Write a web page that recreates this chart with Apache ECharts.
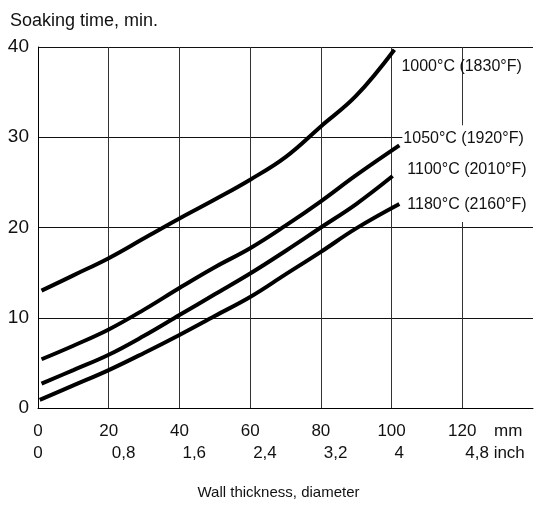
<!DOCTYPE html>
<html>
<head>
<meta charset="utf-8">
<script src="https://cdn.jsdelivr.net/npm/echarts@6/dist/echarts.min.js"></script>
<style>
  html, body { margin: 0; padding: 0; background: #fff; }
  #chart { width: 534px; height: 505px; }
</style>
</head>
<body>
<div id="chart"></div>
<script>
// wall thickness (mm) and soaking time (min)
const x1000 = [1, 10, 20, 30, 40, 50, 60, 70, 80, 90, 100.8];
const t1000 = [13.0, 14.7, 16.6, 18.8, 21.0, 23.1, 25.3, 27.8, 31.2, 34.6, 39.7];
const x1050 = [1, 10, 20, 30, 40, 50, 60, 70, 80, 90, 102.2];
const t1050 = [5.4, 6.9, 8.7, 10.9, 13.3, 15.6, 17.7, 20.2, 22.9, 25.8, 29.1];
const x1100 = [1, 10, 20, 30, 40, 50, 60, 70, 80, 90, 100.3];
const t1100 = [2.7, 4.2, 5.9, 8.0, 10.3, 12.6, 14.9, 17.4, 20.0, 22.6, 25.7];
const x1180 = [0.5, 10, 20, 30, 40, 50, 60, 70, 80, 90, 102.2];
const t1180 = [0.9, 2.5, 4.2, 6.1, 8.1, 10.2, 12.3, 14.8, 17.3, 19.9, 22.6];

const curveNames = ['1000°C (1830°F)', '1050°C (1920°F)', '1100°C (2010°F)', '1180°C (2160°F)'];
const mmTicks = [0, 20, 40, 60, 80, 100, 120];
const inchLabels = ['0', '0,8', '1,6', '2,4', '3,2', '4', '4,8 inch'];
const timeTicks = [0, 10, 20, 30, 40];

const font = "'Liberation Sans', Arial, sans-serif";
const ink = '#111';

const pairs = (xs, ys) => xs.map((x, i) => [x, ys[i]]);

// label boxes: 1050..1180 have white backing that hides the grid behind them
const endLabels = [
    {offset: [7, 17], padding: [0, 0, 0, 0], backgroundColor: 'transparent'},
    {offset: [3, -6.5], padding: [3, 20, 6, 1], backgroundColor: '#fff'},
    {offset: [7.7, -6.7], padding: [7, 20, 14, 7], backgroundColor: '#fff'},
    {offset: [3, 1], padding: [14, 20, 2, 5], backgroundColor: '#fff'}
];

const data = [pairs(x1000, t1000), pairs(x1050, t1050), pairs(x1100, t1100), pairs(x1180, t1180)];

const chart = echarts.init(document.getElementById('chart'));
chart.setOption({
    animation: false,
    textStyle: {fontFamily: font, color: ink},
    title: {
        text: 'Soaking time, min.',
        left: 10,
        top: 12,
        padding: 0,
        textStyle: {fontFamily: font, fontSize: 18, fontWeight: 'normal', color: ink}
    },
    grid: {left: 38, top: 47, right: 1, bottom: 97, containLabel: false},
    xAxis: [
        {
            type: 'value',
            min: 0,
            max: 140,
            interval: 20,
            name: 'mm',
            nameLocation: 'end',
            nameGap: -39,
            nameTextStyle: {fontFamily: font, fontSize: 17, color: ink, verticalAlign: 'top', padding: [15, 0, 0, 0]},
            axisLine: {show: true, lineStyle: {color: '#000', width: 1}},
            axisTick: {show: false},
            axisLabel: {
                customValues: mmTicks,
                margin: 15,
                fontSize: 17,
                color: ink
            },
            splitLine: {show: true, showMaxLine: false, lineStyle: {color: '#333', width: 1}}
        },
        {
            type: 'value',
            min: 0,
            max: 140,
            position: 'bottom',
            offset: 22,
            name: 'Wall thickness, diameter',
            nameLocation: 'middle',
            nameGap: 55,
            nameTextStyle: {fontFamily: font, fontSize: 15, color: ink, padding: [0, 14, 0, 0]},
            axisLine: {show: false},
            axisTick: {show: false},
            splitLine: {show: false},
            axisLabel: {
                customValues: mmTicks.slice(1),
                formatter: (v) => inchLabels[mmTicks.indexOf(v)],
                align: 'left',
                padding: [0, 0, 0, 3],
                margin: 15,
                fontSize: 17,
                color: ink
            }
        },
        {
            type: 'value',
            min: 0,
            max: 140,
            position: 'bottom',
            offset: 22,
            axisLine: {show: false},
            axisTick: {show: false},
            splitLine: {show: false},
            axisLabel: {
                customValues: [mmTicks[0]],
                formatter: () => inchLabels[0],
                margin: 15,
                fontSize: 17,
                color: ink
            }
        }
    ],
    yAxis: {
        type: 'value',
        min: timeTicks[0],
        max: timeTicks[timeTicks.length - 1],
        interval: 10,
        axisLine: {show: true, lineStyle: {color: '#000', width: 1}},
        axisTick: {show: false},
        axisLabel: {margin: 9, fontSize: 19, color: ink, padding: [5, 0, 0, 0]},
        splitLine: {show: true, lineStyle: {color: '#111', width: 1}}
    },
    series: data.map((d, i) => ({
        name: curveNames[i],
        type: 'line',
        data: d,
        smooth: 0.4,
        showSymbol: false,
        symbol: 'none',
        lineStyle: {color: '#000', width: 4},
        endLabel: {
            show: true,
            formatter: curveNames[i],
            position: 'right',
            distance: 0,
            align: 'left',
            verticalAlign: 'middle',
            offset: endLabels[i].offset,
            padding: endLabels[i].padding,
            backgroundColor: endLabels[i].backgroundColor,
            lineHeight: 18,
            fontFamily: font,
            fontSize: 16,
            color: ink
        }
    }))
});
</script>
</body>
</html>
